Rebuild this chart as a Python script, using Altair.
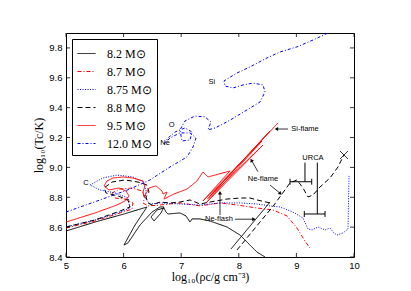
import altair as alt
import pandas as pd

labels = ["8.2 M⊙", "8.7 M⊙", "8.75 M⊙", "8.8 M⊙", "9.5 M⊙", "12.0 M⊙"]
colors = ["black", "red", "blue", "black", "red", "blue"]
dashes = [[1, 0], [4, 2, 1, 2], [1, 1.5], [5, 3], [1, 0], [3, 2, 1, 2]]

# 8.2 Msun (solid black)
m82_x = [5.0, 5.503, 6.007, 6.406, 6.198, 6.007, 6.076, 6.285, 6.493, 6.632, 6.701, 6.649, 6.528,
         6.476, 6.580, 6.701, 6.736, 6.771, 6.979, 7.083, 7.153, 7.188, 7.326, 7.50, 7.795, 8.021,
         8.194, 8.316, 8.455]
m82_y = [8.574, 8.634, 8.688, 8.735, 8.614, 8.480, 8.494, 8.614, 8.701, 8.735, 8.735, 8.695, 8.641,
         8.668, 8.715, 8.728, 8.701, 8.688, 8.695, 8.675, 8.634, 8.655, 8.655, 8.641, 8.601, 8.547,
         8.480, 8.433, 8.40]
m82b_x = [7.865, 8.542]
m82b_y = [8.454, 8.768]

# 8.7 Msun (red dash-dot)
m87_x = [5.0, 5.503, 5.938, 6.146, 6.163, 6.024, 5.851, 5.799, 5.938, 6.146, 6.319, 6.372, 6.337,
         6.424, 6.632, 6.979, 7.326, 7.674, 7.969, 8.316, 8.594, 8.837, 9.010, 9.149, 9.236]
m87_y = [8.594, 8.641, 8.695, 8.721, 8.762, 8.788, 8.795, 8.829, 8.855, 8.862, 8.842, 8.802, 8.762,
         8.742, 8.748, 8.762, 8.742, 8.762, 8.748, 8.728, 8.715, 8.675, 8.594, 8.507, 8.460]

# 8.75 Msun (blue dotted)
m875_x = [5.0, 5.503, 5.938, 6.111, 6.076, 5.851, 5.590, 5.417, 5.642, 5.885, 6.163, 6.337, 6.389,
          6.372, 6.458, 6.632, 6.979, 7.326, 7.674, 8.021, 8.316, 8.542, 8.715, 8.941, 9.115, 9.201,
          9.271, 9.375, 9.497, 9.583, 9.653, 9.705, 9.809, 9.896, 9.913]
m875_y = [8.601, 8.648, 8.701, 8.728, 8.795, 8.829, 8.849, 8.882, 8.929, 8.949, 8.936, 8.902, 8.849,
          8.795, 8.755, 8.762, 8.755, 8.748, 8.762, 8.762, 8.755, 8.742, 8.735, 8.701, 8.661, 8.588,
          8.581, 8.601, 8.581, 8.594, 8.561, 8.547, 8.561, 8.588, 8.943]

# 8.8 Msun (black dashed)
m88_x = [5.0, 5.503, 5.938, 6.111, 6.076, 5.903, 5.694, 5.660, 5.799, 6.024, 6.25, 6.406, 6.441,
         6.389, 6.424, 6.493, 6.632, 6.806, 6.979, 7.153, 7.326, 7.50, 7.795, 8.021, 8.194, 8.316,
         8.542]
m88_y = [8.601, 8.648, 8.708, 8.735, 8.782, 8.809, 8.829, 8.862, 8.902, 8.916, 8.902, 8.882, 8.835,
         8.802, 8.762, 8.748, 8.768, 8.762, 8.768, 8.782, 8.755, 8.768, 8.788, 8.795, 8.795, 8.782,
         8.762]
m88b_x = [7.969, 8.611, 8.889, 9.010, 9.115, 9.201, 9.288, 9.410, 9.583, 9.722, 9.826]
m88b_y = [8.447, 8.748, 8.896, 8.916, 8.862, 8.802, 8.815, 8.869, 8.929, 9.003, 9.083]

# 9.5 Msun (red solid)
m95_x = [5.0, 5.503, 5.885, 6.024, 6.094, 6.042, 5.920, 5.747, 5.660, 5.712, 5.816, 5.990, 6.163,
         6.337, 6.372, 6.337, 6.354, 6.406, 6.441, 6.563, 6.667, 6.684, 6.753, 6.701, 6.875, 7.101,
         7.274, 7.378, 7.465, 7.847, 7.378, 8.403, 7.431, 8.420, 7.460, 8.542, 7.50, 8.681]
m95_y = [8.634, 8.695, 8.748, 8.775, 8.809, 8.842, 8.862, 8.849, 8.876, 8.909, 8.929, 8.936, 8.929,
         8.909, 8.876, 8.835, 8.802, 8.835, 8.862, 8.876, 8.842, 8.822, 8.835, 8.788, 8.822, 8.855,
         8.909, 8.969, 8.936, 8.976, 8.775, 9.177, 8.762, 9.150, 8.790, 9.244, 8.809, 9.298]

# 12.0 Msun (blue dash-dot)
m120_x = [5.0, 5.590, 6.111, 6.458, 6.806, 7.101, 7.205, 7.257, 7.153, 6.979, 6.806, 6.701, 6.771,
          6.892, 7.066, 7.188, 7.153, 7.014, 6.979, 7.066, 7.240, 7.413, 7.517, 7.465, 7.587, 7.726,
          7.882, 8.142, 8.368, 8.455, 8.420, 8.247, 8.073, 7.899, 7.760, 7.743, 7.969, 8.194, 8.490,
          8.715, 9.010, 9.288, 9.549]
m120_y = [8.701, 8.782, 8.855, 8.916, 9.003, 9.070, 9.137, 9.197, 9.231, 9.231, 9.197, 9.157, 9.197,
          9.237, 9.264, 9.237, 9.184, 9.177, 9.251, 9.311, 9.344, 9.338, 9.304, 9.251, 9.264, 9.291,
          9.324, 9.385, 9.438, 9.505, 9.552, 9.565, 9.552, 9.532, 9.545, 9.579, 9.632, 9.673, 9.733,
          9.773, 9.807, 9.853, 9.900]

x_ticks = [5, 6, 7, 8, 9, 10]
y_ticks = [8.4, 8.6, 8.8, 9.0, 9.2, 9.4, 9.6, 9.8]

# annotations
ann_text = ["C", "Ne", "O", "Si", "Si-flame", "Ne-flame", "Ne-flash", "URCA"]
ann_x = [5.347, 6.719, 6.835, 7.53, 9.149, 8.42, 7.656, 9.288]
ann_y = [8.894, 9.162, 9.284, 9.574, 9.257, 8.922, 8.655, 9.063]

arr_x1 = [8.854, 8.333, 8.542, 7.934, 7.674]
arr_y1 = [9.257, 8.971, 8.882, 8.653, 8.681]
arr_x2 = [8.663, 8.224, 8.715, 8.252, 7.674]
arr_y2 = [9.257, 9.045, 8.827, 8.653, 8.827]
arr_angle = [270, 331, 129, 90, 0]

urca_bar_x1 = [8.889, 9.137]
urca_bar_x2 = [9.266, 9.497]
urca_bar_y = [8.904, 8.688]
urca_stem_x = [9.149, 9.363]
urca_stem_top = [9.032, 9.032]

end_x = [9.826]
end_y = [9.083]

segments = [
    (labels[0], "a", m82_x, m82_y),
    (labels[0], "b", m82b_x, m82b_y),
    (labels[1], "a", m87_x, m87_y),
    (labels[2], "a", m875_x, m875_y),
    (labels[3], "a", m88_x, m88_y),
    (labels[3], "b", m88b_x, m88b_y),
    (labels[4], "a", m95_x, m95_y),
    (labels[5], "a", m120_x, m120_y),
]
rows = []
for name, seg, xs, ys in segments:
    for i, (xv, yv) in enumerate(zip(xs, ys)):
        rows.append({"series": name, "seg": name + seg, "i": i, "x": xv, "y": yv})
df = pd.DataFrame(rows)

xscale = alt.Scale(domain=[5, 10], nice=False, zero=False)
yscale = alt.Scale(domain=[8.4, 9.9], nice=False, zero=False)

ax_x = alt.Axis(values=x_ticks, format="d", ticks=False, domain=False, grid=False,
                labelFont="Liberation Sans", labelFontSize=9.5, labelPadding=3,
                labelColor="black", labelFlush=False,
                title="log₁₀(ρc/g cm⁻³)", titleFont="Liberation Serif",
                titleFontSize=12, titleFontWeight="normal", titlePadding=2,
                titleColor="black")
ax_y = alt.Axis(values=y_ticks, format=".1f", ticks=False, domain=False, grid=False,
                labelFont="Liberation Sans", labelFontSize=9.5, labelPadding=4,
                labelColor="black", labelFlush=False,
                title="log₁₀(Tc/K)", titleFont="Liberation Serif",
                titleFontSize=12, titleFontWeight="normal", titlePadding=3,
                titleColor="black")

leg = alt.Legend(title=None, orient="top-left", offset=6, strokeColor="black", fillColor="white",
                 padding=5, cornerRadius=0, labelFont="Liberation Serif", labelFontSize=12,
                 labelColor="black", symbolSize=324, symbolStrokeWidth=1, rowPadding=2,
                 labelOffset=11, labelLimit=200)


def X(field):
    return alt.X(field, scale=xscale, axis=ax_x)


def Y(field):
    return alt.Y(field, scale=yscale, axis=ax_y)


lines = alt.Chart(df).mark_line(clip=True, strokeWidth=1).encode(
    x=X("x:Q"),
    y=Y("y:Q"),
    color=alt.Color("series:N", scale=alt.Scale(domain=labels, range=colors), legend=leg),
    strokeDash=alt.StrokeDash("series:N", scale=alt.Scale(domain=labels, range=dashes), legend=leg),
    detail="seg:N",
    order="i:Q",
)

xt_df = pd.DataFrame({"x": x_ticks})
yt_df = pd.DataFrame({"y": y_ticks})
tick_b = alt.Chart(xt_df).mark_rule(color="black", strokeWidth=0.8).encode(
    x=X("x:Q"), y=alt.value(224), y2=alt.value(220))
tick_t = alt.Chart(xt_df).mark_rule(color="black", strokeWidth=0.8).encode(
    x=X("x:Q"), y=alt.value(0), y2=alt.value(4))
tick_l = alt.Chart(yt_df).mark_rule(color="black", strokeWidth=0.8).encode(
    y=Y("y:Q"), x=alt.value(0), x2=alt.value(4))
tick_r = alt.Chart(yt_df).mark_rule(color="black", strokeWidth=0.8).encode(
    y=Y("y:Q"), x=alt.value(288), x2=alt.value(284))

ann_df = pd.DataFrame({"t": ann_text, "x": ann_x, "y": ann_y})
texts = alt.Chart(ann_df).mark_text(font="Liberation Sans", fontSize=7.5, color="black").encode(
    x=X("x:Q"), y=Y("y:Q"), text="t:N")

arr_df = pd.DataFrame({"x": arr_x1, "y": arr_y1, "x2": arr_x2, "y2": arr_y2, "a": arr_angle})
arr_lines = alt.Chart(arr_df).mark_rule(color="black", strokeWidth=0.8).encode(
    x=X("x:Q"), y=Y("y:Q"), x2="x2:Q", y2="y2:Q")
head_df = pd.DataFrame({"x": arr_x2, "y": arr_y2, "a": arr_angle})
arr_heads = alt.Chart(head_df).mark_point(shape="triangle", filled=True, size=16, color="black",
                                          opacity=1).encode(
    x=X("x:Q"), y=Y("y:Q"), angle=alt.Angle("a:Q", scale=None))

bar_df = pd.DataFrame({"x": urca_bar_x1, "x2": urca_bar_x2, "y": urca_bar_y})
urca_bars = alt.Chart(bar_df).mark_rule(color="black", strokeWidth=1).encode(
    x=X("x:Q"), x2="x2:Q", y=Y("y:Q"))
stem_df = pd.DataFrame({"x": urca_stem_x, "y": urca_bar_y, "y2": urca_stem_top})
urca_stems = alt.Chart(stem_df).mark_rule(color="black", strokeWidth=1).encode(
    x=X("x:Q"), y=Y("y:Q"), y2="y2:Q")
cap_df = pd.DataFrame({"x": urca_bar_x1 + urca_bar_x2, "y": urca_bar_y + urca_bar_y})
urca_caps = alt.Chart(cap_df).mark_rule(color="black", strokeWidth=1, yOffset=-3, y2Offset=3).encode(
    x=X("x:Q"), y=Y("y:Q"), y2="y:Q")

end_df = pd.DataFrame({"x": end_x, "y": end_y})
end_mark = alt.Chart(end_df).mark_point(shape="M-1,-1L1,1M-1,1L1,-1", size=64, strokeWidth=0.8,
                                        color="black", filled=False, opacity=1).encode(
    x=X("x:Q"), y=Y("y:Q"))

chart = alt.layer(
    lines, tick_b, tick_t, tick_l, tick_r, arr_lines, arr_heads, urca_bars, urca_stems,
    urca_caps, end_mark, texts
).properties(
    width=288, height=224, autosize="none",
    padding={"left": 58, "top": 25, "right": 40, "bottom": 32},
).configure_view(stroke="black", strokeWidth=1)

chart.save("out.html", embed_options={"renderer": "svg", "actions": False})
